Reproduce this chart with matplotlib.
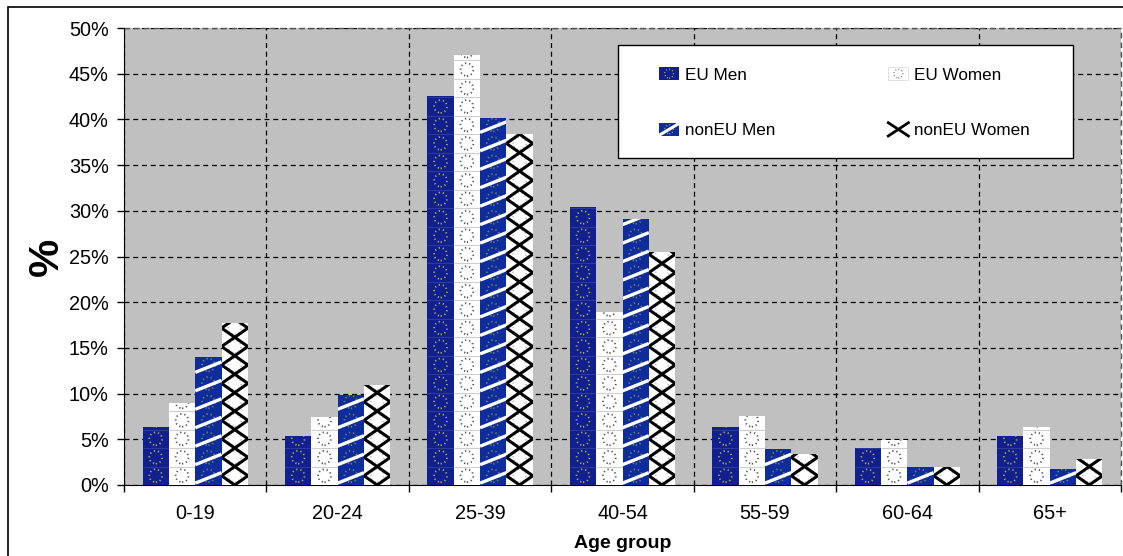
import numpy as np
import matplotlib
matplotlib.use("Agg")
import matplotlib.pyplot as plt
from matplotlib.patches import Rectangle, Patch, Circle
from matplotlib.lines import Line2D
from matplotlib.collections import LineCollection
from matplotlib.legend_handler import HandlerBase

plt.rcParams['font.family'] = ['Liberation Sans', 'DejaVu Sans']

# data (percent)
age_groups = ['0-19', '20-24', '25-39', '40-54', '55-59', '60-64', '65+']
eu_men = [6.4, 5.4, 42.6, 30.4, 6.4, 4.1, 5.4]
eu_women = [9.0, 7.4, 47.1, 18.9, 7.6, 4.9, 6.3]
noneu_men = [14.0, 9.9, 40.2, 29.1, 3.9, 2.0, 1.7]
noneu_women = [17.7, 10.9, 38.4, 25.5, 3.4, 2.0, 2.8]
y_ticks = [0, 5, 10, 15, 20, 25, 30, 35, 40, 45, 50]

TILE = 2.02  # height of one picture tile in the stacked fill (in %)
DOTS = (0, (0.7, 1.6))

fig = plt.figure(figsize=(11.23, 5.56), dpi=100)
ax = fig.add_axes([124 / 1123, 1 - 485 / 556, 997 / 1123, 457 / 556])
ax.set_facecolor('#C0C0C0')

# outer chart border (cut at right/bottom like the original)
fig.patches.append(Rectangle((8 / 1123, -0.1), 1.2, 1 - 7 / 556 + 0.1,
                             transform=fig.transFigure, fill=False,
                             edgecolor='black', linewidth=1.2))


def rings(ax, rect, color, alpha=1.0):
    n = int(np.ceil(rect.get_height() / TILE))
    yc = (np.arange(n) + 0.5) * TILE
    xc = np.full(n, rect.get_x() + rect.get_width() / 2)
    sc = ax.scatter(xc, yc, s=85, marker='o', facecolors='none', edgecolors=color,
                    linewidths=1.3, linestyles=DOTS, alpha=alpha, zorder=3.5)
    sc.set_clip_path(rect)


def tile_lines(ax, rect, color):
    n = int(np.ceil(rect.get_height() / TILE))
    x0, x1 = rect.get_x(), rect.get_x() + rect.get_width()
    segs = [[(x0, k * TILE), (x1, k * TILE)] for k in range(1, n)]
    lc = LineCollection(segs, colors=color, linewidths=0.8, zorder=3.4)
    ax.add_collection(lc)
    lc.set_clip_path(rect)


def stripes(ax, rect):
    n = int(np.ceil(rect.get_height() / TILE))
    x0, x1 = rect.get_x(), rect.get_x() + rect.get_width()
    segs = [[(x0, k * TILE + 0.1 * TILE), (x1, k * TILE + 0.1 * TILE + 1.15)]
            for k in range(-1, n + 1)]
    lc = LineCollection(segs, colors='white', linewidths=2.4, zorder=3.6)
    ax.add_collection(lc)
    lc.set_clip_path(rect)


def crosses(ax, rect):
    n = int(np.ceil(rect.get_height() / TILE))
    x0, x1 = rect.get_x(), rect.get_x() + rect.get_width()
    segs = []
    for k in range(0, n + 2):
        yc = k * TILE
        segs.append([(x0, yc - TILE / 2), (x1, yc + TILE / 2)])
        segs.append([(x0, yc + TILE / 2), (x1, yc - TILE / 2)])
    lc = LineCollection(segs, colors='black', linewidths=2.2, zorder=3.6)
    ax.add_collection(lc)
    lc.set_clip_path(rect)


class Swatch(HandlerBase):
    # legend key drawn with the same motif as the bars
    def __init__(self, kind):
        super().__init__()
        self.kind = kind

    def create_artists(self, legend, orig_handle, xdescent, ydescent,
                       width, height, fontsize, trans):
        x0, y0 = -xdescent, -ydescent
        cx, cy = x0 + width / 2, y0 + height / 2
        out = [Rectangle((x0, y0), width, height, facecolor=orig_handle.get_facecolor(),
                         edgecolor='#DDDDDD' if self.kind == 1 else 'none',
                         linewidth=0.6, transform=trans)]
        if self.kind in (0, 1, 2):
            col = ['#B0B060', '#777777', '#9AA560'][self.kind]
            out.append(Circle((cx, cy), height * 0.33, fill=False, edgecolor=col,
                              linewidth=1.0, linestyle=DOTS, transform=trans))
        if self.kind == 2:
            out.append(Line2D([x0, x0 + width], [y0 + 0.05 * height, y0 + 0.95 * height],
                              color='white', linewidth=2.2, transform=trans))
        if self.kind == 3:
            out.append(Line2D([x0, x0 + width], [y0, y0 + height], color='black',
                              linewidth=2.0, transform=trans))
            out.append(Line2D([x0, x0 + width], [y0 + height, y0], color='black',
                              linewidth=2.0, transform=trans))
        return out


x = np.arange(len(age_groups))
w = 0.185
faces = ['#11208E', 'white', '#0E2C9C', 'white']
all_vals = [eu_men, eu_women, noneu_men, noneu_women]
names = ['EU Men', 'EU Women', 'nonEU Men', 'nonEU Women']
for i, vals in enumerate(all_vals):
    bars = ax.bar(x + (i - 1.5) * w, vals, w, color=faces[i], linewidth=0, zorder=3)
    for r in bars:
        if i == 0:
            tile_lines(ax, r, '#2B3A9C')
            rings(ax, r, '#A8A855')
        elif i == 1:
            tile_lines(ax, r, '#CFCFCF')
            rings(ax, r, '#555555')
        elif i == 2:
            rings(ax, r, '#8E9A50', alpha=0.8)
            stripes(ax, r)
        else:
            rings(ax, r, '#999999', alpha=0.6)
            crosses(ax, r)

ax.set_xlim(-0.5, len(age_groups) - 0.5)
ax.set_ylim(0, 50)
ax.set_yticks(y_ticks)
ax.set_yticklabels([f'{t}%' for t in y_ticks], fontsize=14.3)
ax.set_xticks(x)
ax.set_xticklabels(age_groups, fontsize=14.3)
ax.set_xticks(np.arange(-0.5, len(age_groups)), minor=True)
ax.tick_params(axis='x', which='major', length=0, pad=14)
ax.tick_params(axis='x', which='minor', length=5, direction='out', width=1)
ax.tick_params(axis='y', length=5, direction='out', width=1, pad=6)

ax.grid(axis='y', which='major', color='black', linestyle=(0, (4, 3)), linewidth=0.9, zorder=1)
ax.grid(axis='x', which='minor', color='black', linestyle=(0, (4, 3)), linewidth=0.9, zorder=1)
ax.set_axisbelow(True)
for s in ['top', 'right']:
    ax.spines[s].set_visible(False)
ax.axhline(50, color='#555555', linestyle=(0, (4, 3)), linewidth=1, clip_on=False)
ax.axvline(6.5, color='#555555', linestyle=(0, (4, 3)), linewidth=1, clip_on=False)

ax.set_ylabel('%', fontsize=31, fontweight='bold')
ax.yaxis.set_label_coords(-57 / 997, 0.5)
ax.set_xlabel('Age group', fontsize=14, fontweight='bold')
ax.xaxis.set_label_coords(0.5, -50 / 457)

# legend box
ax.add_patch(Rectangle(((618 - 124) / 997, (485 - 158) / 457), 455 / 997, 113 / 457,
                       transform=ax.transAxes, facecolor='white', edgecolor='black',
                       linewidth=1, zorder=4))
proxies = [Patch(facecolor=faces[i], label=names[i]) for i in range(4)]
hmap = {proxies[i]: Swatch(i) for i in range(4)}
# matplotlib fills legend columns first; the original reads row by row
order = [0, 2, 1, 3]
ax.legend(handles=[proxies[k] for k in order], handler_map=hmap, ncol=2, frameon=False,
          fontsize=12.3, loc='upper left',
          bbox_to_anchor=((659 - 124) / 997, (485 - 67) / 457),
          borderpad=0, borderaxespad=0, handlelength=1.18, handleheight=0.82,
          handletextpad=0.35, labelspacing=2.35, columnspacing=6.6)

fig.savefig('out.png', dpi=100)
